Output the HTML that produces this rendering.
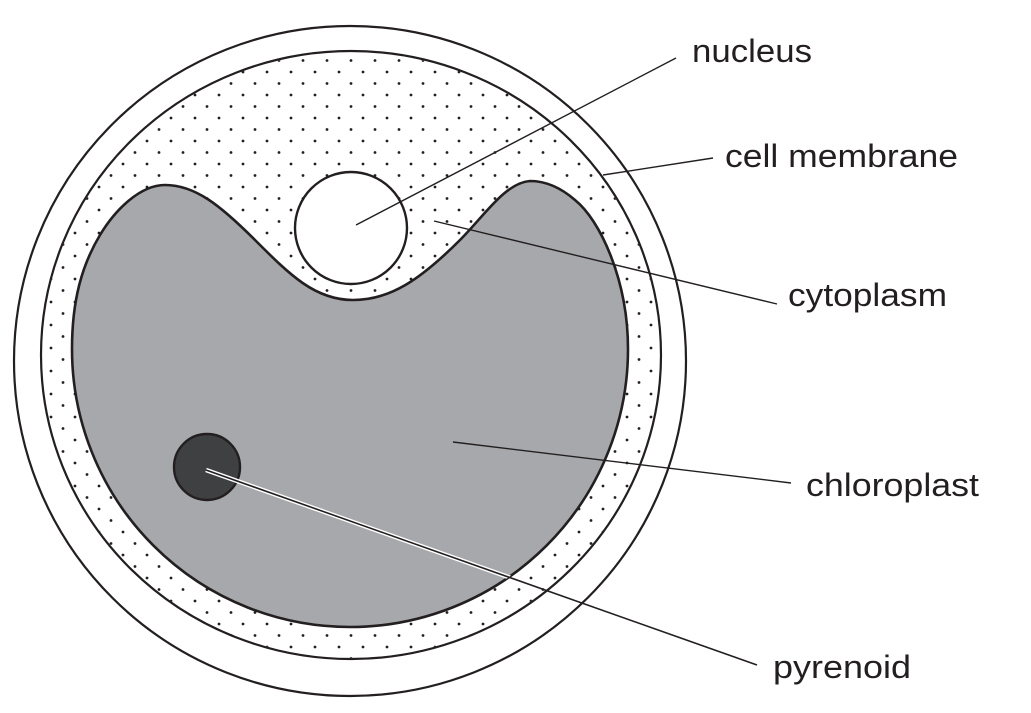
<!DOCTYPE html>
<html><head><meta charset="utf-8"><style>html,body{margin:0;padding:0;background:#fff}svg{display:block}</style></head>
<body>
<svg width="1031" height="713" viewBox="0 0 1031 713" xmlns="http://www.w3.org/2000/svg">
<defs>
<pattern id="dots" x="0" y="0" width="24" height="23" patternUnits="userSpaceOnUse">
<circle cx="3" cy="3" r="1.4" fill="#231f20"/>
<circle cx="15" cy="14.5" r="1.4" fill="#231f20"/>
</pattern>
<clipPath id="cp"><path id="chl" d="M72,349 A278,278 0 0 0 628,349 C628,280 600,220 575,200 C560,187 545,181 530,181 C505,183 485,215 460,240 C420,280 390,300 353,300 C315,300 290,275 255,240 C220,205 195,185 165,185 C140,185 115,210 100,235 C82,265 72,300 72,349 Z"/></clipPath>
</defs>
<ellipse cx="350" cy="361" rx="336" ry="335" fill="#fff" stroke="#231f20" stroke-width="2.2"/>
<ellipse cx="351" cy="355" rx="310" ry="304" fill="#fff" stroke="#231f20" stroke-width="2.2"/>
<ellipse cx="351" cy="355" rx="309" ry="303" fill="url(#dots)"/>
<path d="M72,349 A278,278 0 0 0 628,349 C628,280 600,220 575,200 C560,187 545,181 530,181 C505,183 485,215 460,240 C420,280 390,300 353,300 C315,300 290,275 255,240 C220,205 195,185 165,185 C140,185 115,210 100,235 C82,265 72,300 72,349 Z" fill="#a7a8ab" stroke="#231f20" stroke-width="2.6"/>
<circle cx="351" cy="228" r="56" fill="#fff" stroke="#231f20" stroke-width="2.4"/>
<circle cx="207" cy="467" r="33" fill="#3f4042" stroke="#231f20" stroke-width="2.4"/>
<g stroke="#231f20" stroke-width="1.4" fill="none">
<line x1="676" y1="58" x2="356" y2="225"/>
<line x1="713" y1="158" x2="603" y2="175"/>
<line x1="777" y1="304" x2="434" y2="221"/>
<line x1="791" y1="483" x2="453" y2="442"/>
</g>
<line x1="757" y1="665" x2="206" y2="470" stroke="#fff" stroke-width="4.4" clip-path="url(#cp)"/>
<line x1="757" y1="665" x2="206" y2="470" stroke="#231f20" stroke-width="1.6"/>
<g font-family="'Liberation Sans', sans-serif" font-size="32" fill="#231f20">
<text x="692" y="62" textLength="120" lengthAdjust="spacingAndGlyphs">nucleus</text>
<text x="725" y="167" textLength="233" lengthAdjust="spacingAndGlyphs">cell membrane</text>
<text x="788" y="306" textLength="159" lengthAdjust="spacingAndGlyphs">cytoplasm</text>
<text x="806" y="496" textLength="173" lengthAdjust="spacingAndGlyphs">chloroplast</text>
<text x="773" y="678" textLength="138" lengthAdjust="spacingAndGlyphs">pyrenoid</text>
</g>
</svg>
</body></html>
